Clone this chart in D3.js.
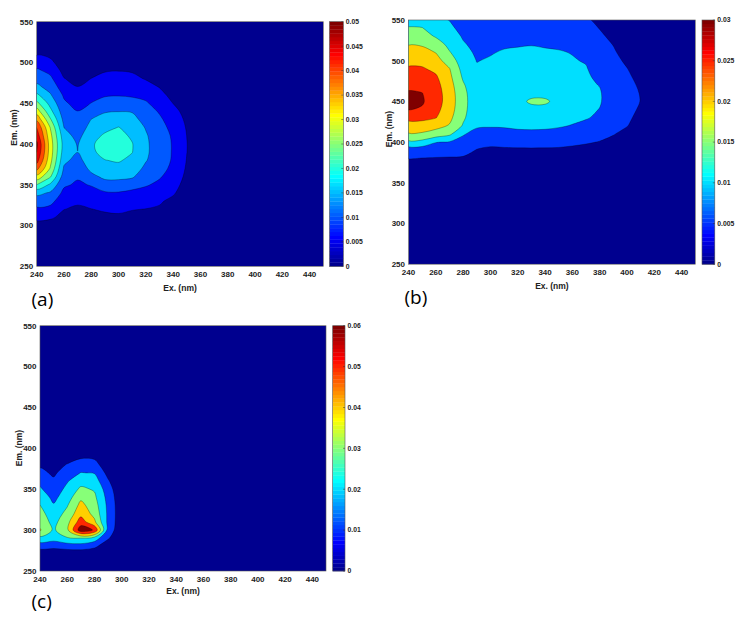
<!DOCTYPE html>
<html>
<head>
<meta charset="utf-8">
<script src="https://cdn.jsdelivr.net/npm/d3@7"></script>
<style>
  body { margin: 0; background: #fff; }
  svg text { font-family: "Liberation Sans", Arial, sans-serif; fill: #222; }
</style>
</head>
<body>
<svg id="chart" width="743" height="622"></svg>
<script>
// sample grid (nm)
const exGrid = [240, 250, 260, 270, 280, 290, 300, 310, 320, 330, 340, 350, 360, 370, 380, 390, 400, 410, 420, 430, 440, 450];
const emGrid = [250, 260, 270, 280, 290, 300, 310, 320, 330, 340, 350, 360, 370, 380, 390, 400, 410, 420, 430, 440, 450, 460, 470, 480, 490, 500, 510, 520, 530, 540, 550];
const xTicks = [240, 260, 280, 300, 320, 340, 360, 380, 400, 420, 440];
const yTicks = [250, 300, 350, 400, 450, 500, 550];

// intensities in units of 1e-3, one array per Ex column (Em 250 -> 550),
// columns not listed are zero
const intensityA = [
  /* 240 */ [0,0,0,0,1,3,6.4,9.2,12.3,16.4,25,33.3,41.7,47,50,51,48,45,39,32.5,26.3,21,16.1,13.5,10.8,7.8,4.7,2,0.5,0,0],
  /* 250 */ [0,0,0,0,0.5,2.5,5.8,8.6,11.5,14.4,19,25.5,29.5,31.5,32.5,32.5,31.5,29.8,25.6,21.4,18.3,15.5,13.2,11,8.7,6.2,3.8,1.5,0,0,0],
  /* 260 */ [0,0,0,0,0,1.5,3.5,5.1,6.9,8.8,10.7,12.5,14.3,16.2,17.5,18,17,15,13.5,12.2,10.8,9.3,7.2,5.2,3.5,2,0.8,0,0,0,0],
  /* 270 */ [0,0,0,0,0,0.8,2.5,4.3,5.7,7.6,9.3,10.5,11.9,13.3,15.05,14.7,13.5,12.4,11.3,10.1,8.3,6.7,5.1,3.3,1.8,0.6,0,0,0,0,0],
  /* 280 */ [0,0,0,0,0,1.5,3.2,4.9,6.7,8.5,10.3,13.8,16.2,18,19.3,19.5,18.3,16.5,15.1,12.4,10.1,8.4,6.7,5.1,3.2,1.5,0.3,0,0,0,0],
  /* 290 */ [0,0,0,0,0,2,3.9,5.6,7.5,9.4,13.2,16,17.5,19.9,21.2,21.5,20.7,18.8,16.9,14.6,11.9,9.5,7.9,6.3,4.7,3,1.3,0,0,0,0],
  /* 300 */ [0,0,0,0,0,2.2,4.2,5.9,7.6,9.6,13.3,16,18.8,20.4,21.5,22,21.5,20.2,17.8,14.9,12.2,9.7,8.1,6.5,4.9,3.2,1.5,0.2,0,0,0],
  /* 310 */ [0,0,0,0,0,2,3.8,5.2,6.9,8.6,12.3,15.6,17.5,19,20.1,20.2,19.3,18,16.5,14.7,12,9.3,7.8,6.1,4.6,2.9,1.2,0,0,0,0],
  /* 320 */ [0,0,0,0,0,1.5,3.2,4.9,6.7,8.5,10.4,12.1,13.9,15.3,15.8,15.8,15.5,14.7,13.3,11.9,10.5,8.8,6.7,4.7,3,1.5,0.3,0,0,0,0],
  /* 330 */ [0,0,0,0,0,0.8,2.5,4.4,5.6,7.3,9.1,10.4,11.5,12.2,12.5,12.5,12.2,11.5,10.7,9.6,8.1,6.5,4.8,3.2,1.8,0.6,0,0,0,0,0],
  /* 340 */ [0,0,0,0,0,0,0.8,2.2,3.8,5.6,7,8.2,9,9.5,9.6,9.6,9.4,8.8,7.9,6.6,4.9,3.5,2,0.8,0,0,0,0,0,0,0],
  /* 350 */ [0,0,0,0,0,0,0,0.3,1.2,2.2,3,3.8,4.4,4.8,5.05,5.1,4.95,4.6,4,3.2,2.3,1.3,0.5,0,0,0,0,0,0,0,0],
  /* 360 */ [0,0,0,0,0,0,0,0,0,0,0.2,0.6,1,1.3,1.5,1.5,1.4,1.1,0.7,0.3,0,0,0,0,0,0,0,0,0,0,0]
];

const intensityB = [
  /* 240 */ [0,0,0,0,0,0,0,0,0,0,0,0.5,2.5,5.2,7,14,19.6,23.2,26.3,30.2,31.2,30.6,28.8,27.2,25.6,23.8,21.8,19.8,17.6,15.4,13],
  /* 250 */ [0,0,0,0,0,0,0,0,0,0,0,0.4,2,4.9,7,13.5,19.3,23,26.2,29.5,30.5,30.1,28.5,27,25.5,23.6,21.6,19.5,17.4,15.2,12.6],
  /* 260 */ [0,0,0,0,0,0,0,0,0,0,0,0.3,1.5,4.7,7.3,10.2,18,21.5,25.2,26.5,27.3,27.2,26.6,25.6,23.9,21.8,19.9,17.8,14.5,12.5,11],
  /* 270 */ [0,0,0,0,0,0,0,0,0,0,0,0.2,1.2,4.6,7,9.7,16,19.6,21.2,22.2,22.6,22.5,22,21.2,20.2,17.8,15.4,13.5,12,10.8,9.9],
  /* 280 */ [0,0,0,0,0,0,0,0,0,0,0,0,1,4.5,6.5,8.5,10.4,14.5,15.8,16.4,16.6,16.4,15.6,14.3,13.2,12.2,11.3,10.4,9.6,8.8,8.2],
  /* 290 */ [0,0,0,0,0,0,0,0,0,0,0,0,0.5,3,4.8,6.5,8.5,10.6,11.3,11.7,11.8,11.6,11.2,10.8,10.4,9.9,9.4,8.9,8.4,7.9,7.5],
  /* 300 */ [0,0,0,0,0,0,0,0,0,0,0,0,0,1.8,4,6.3,8.2,10.4,11.2,11.6,11.8,11.7,11.4,11,10.6,10.3,9.8,9.2,8.7,8.2,7.7],
  /* 310 */ [0,0,0,0,0,0,0,0,0,0,0,0,0,2,4.2,6.5,8.3,10.5,11.4,11.8,12,11.9,11.6,11.2,10.9,10.6,10.3,9.6,9,8.4,7.8],
  /* 320 */ [0,0,0,0,0,0,0,0,0,0,0,0,0,2,4.3,6.7,8.8,10.9,11.6,12,12.2,12.1,11.8,11.4,11,10.7,10.4,9.8,9.2,8.5,7.9],
  /* 330 */ [0,0,0,0,0,0,0,0,0,0,0,0,0,2,4.3,6.8,8.9,11,11.8,12.3,16.5,12.3,12,11.6,11.2,10.9,10.5,9.9,9.2,8.5,7.8],
  /* 340 */ [0,0,0,0,0,0,0,0,0,0,0,0,0,1.9,4.3,6.7,8.8,10.9,11.7,12.2,16.5,12.2,11.9,11.5,11.1,10.8,10.4,9.7,9,8.3,7.7],
  /* 350 */ [0,0,0,0,0,0,0,0,0,0,0,0,0,1.8,4.2,6.5,8.6,10.4,11.3,11.8,12,11.8,11.5,11.2,10.9,10.6,10.2,9.6,8.8,8,7.3],
  /* 360 */ [0,0,0,0,0,0,0,0,0,0,0,0,0,1.5,3.9,6,7.9,9.8,10.9,11.3,11.5,11.4,11.1,10.8,10.5,10.2,9.9,9.2,8.3,7.4,6.6],
  /* 370 */ [0,0,0,0,0,0,0,0,0,0,0,0,0,1,3.4,5.5,7.3,9,10.3,10.8,11,10.9,10.6,10.4,10.2,9.8,8.9,8,7,6.1,5.3],
  /* 380 */ [0,0,0,0,0,0,0,0,0,0,0,0,0,0.3,2.8,4.8,6.5,8,9.3,9.9,10.3,10.3,9.9,9.4,8.6,7.7,6.9,6.1,5.5,4.9,4.5],
  /* 390 */ [0,0,0,0,0,0,0,0,0,0,0,0,0,0,1.5,3.5,5.3,6.5,7.4,7.9,8.1,8,7.7,7.2,6.6,6,5.4,4.9,4.3,3.7,3.2],
  /* 400 */ [0,0,0,0,0,0,0,0,0,0,0,0,0,0,0,1.5,3.4,5.2,5.9,6.4,6.6,6.5,6.2,5.7,5.1,4.4,3.8,3.2,2.6,2.1,1.6],
  /* 410 */ [0,0,0,0,0,0,0,0,0,0,0,0,0,0,0,0,1,2.5,3.6,4.4,4.9,4.8,4.4,3.8,3.2,2.6,2,1.5,1,0.6,0.3],
  /* 420 */ [0,0,0,0,0,0,0,0,0,0,0,0,0,0,0,0,0,1,1.8,2.5,2.9,2.8,2.5,2,1.5,1,0.6,0.3,0,0,0]
];

const intensityC = [
  /* 240 */ [0,0,3,13.5,27,41,36,33.5,30.3,26,21.2,17.3,12.5,8.5,3,0.5,0,0,0,0,0,0,0,0,0,0,0,0,0,0,0],
  /* 250 */ [0,0,2.5,12.5,24,28.5,27,24.5,21,17.5,14.5,11.5,8.5,5.5,2,0,0,0,0,0,0,0,0,0,0,0,0,0,0,0,0],
  /* 260 */ [0,0,3,14,29,38,37,33,29.4,25.5,22.5,19.2,14.5,10.6,5,1,0,0,0,0,0,0,0,0,0,0,0,0,0,0,0],
  /* 270 */ [0,0,2.5,15,29.5,66,55,47,43,38,32,26,20.3,14.3,8.5,2,0,0,0,0,0,0,0,0,0,0,0,0,0,0,0],
  /* 280 */ [0,0,1,12,25,59,42,37,34.5,32,29,24.5,19.5,13.5,8,2,0,0,0,0,0,0,0,0,0,0,0,0,0,0,0],
  /* 290 */ [0,0,0,3,11,16,17.5,18,17.6,16.5,14.5,11,7,3.5,1,0,0,0,0,0,0,0,0,0,0,0,0,0,0,0,0],
  /* 300 */ [0,0,0,0,1,2.5,3,3,3,2.5,1.5,0.5,0,0,0,0,0,0,0,0,0,0,0,0,0,0,0,0,0,0,0]
];

// contour levels and colour bar ticks (units of 1e-3)
const levelsA = [5, 10, 15, 20, 25, 30, 35, 40, 45, 50];
const levelsB = [5, 10, 15, 20, 25, 30];
const levelsC = [10, 20, 30, 40, 50, 60];
const cbarTicksA = [0, 5, 10, 15, 20, 25, 30, 35, 40, 45, 50];
const cbarTicksB = [0, 5, 10, 15, 20, 25, 30];
const cbarTicksC = [0, 10, 20, 30, 40, 50, 60];

// MATLAB jet
const jetStops = [0, 7 / 63, 23 / 63, 39 / 63, 55 / 63, 1];
const jetColors = ["#00008f", "#0000ff", "#00ffff", "#ffff00", "#ff0000", "#800000"];

const panels = [
  { id: "a", data: intensityA, levels: levelsA, cticks: cbarTicksA, cmax: 50,
    left: 36.7, right: 323.3, top: 21.7, bottom: 266.3, cbL: 329.5, cbR: 343.3,
    xLabY: 290.5, yLabX: 16.5, yLabY: 127.5, tag: "(a)", tagX: 31.5, tagY: 306 },
  { id: "b", data: intensityB, levels: levelsB, cticks: cbarTicksB, cmax: 30,
    left: 408.5, right: 695.3, top: 20, bottom: 264.2, cbL: 702, cbR: 714.8,
    xLabY: 288.7, yLabX: 391.5, yLabY: 129, tag: "(b)", tagX: 404.5, tagY: 304 },
  { id: "c", data: intensityC, levels: levelsC, cticks: cbarTicksC, cmax: 60,
    left: 40, right: 326, top: 325.7, bottom: 571, cbL: 332.7, cbR: 345,
    xLabY: 593.5, yLabX: 21.5, yLabY: 448, tag: "(c)", tagX: 31.5, tagY: 607.5 }
];

const svg = d3.select("#chart");
const fmt = d => d === 0 ? "0" : String(d / 1000);
const ringLine = d3.line().curve(d3.curveCatmullRomClosed.alpha(0.5));

function drawPanel(p) {
  const g = svg.append("g");
  const x = d3.scaleLinear().domain([240, 450]).range([p.left, p.right]);
  const y = d3.scaleLinear().domain([250, 550]).range([p.bottom, p.top]);
  const color = d3.scaleLinear()
    .domain(jetStops.map(s => s * p.cmax))
    .range(jetColors)
    .clamp(true);

  // row-major grid for d3.contours (row 0 = Em 250)
  const nx = exGrid.length, ny = emGrid.length;
  const values = new Array(nx * ny).fill(0);
  p.data.forEach((col, i) => col.forEach((v, j) => { values[j * nx + i] = v; }));

  // grid sample i sits at contour coordinate i + 0.5
  const gx = d3.scaleLinear().domain([0.5, nx - 0.5]).range([x(exGrid[0]), x(exGrid[nx - 1])]);
  const gy = d3.scaleLinear().domain([0.5, ny - 0.5]).range([y(emGrid[0]), y(emGrid[ny - 1])]);
  const bandPath = d => d.coordinates
    .map(poly => poly.map(ring => ringLine(ring.slice(0, -1).map(([cx, cy]) => [gx(cx), gy(cy)]))).join(""))
    .join("");
  const bands = d3.contours().size([nx, ny]).thresholds(p.levels)(values);

  g.append("clipPath").attr("id", "clip-" + p.id)
    .append("rect")
    .attr("x", p.left).attr("y", p.top)
    .attr("width", p.right - p.left).attr("height", p.bottom - p.top);

  const plot = g.append("g").attr("clip-path", `url(#clip-${p.id})`);
  plot.append("rect")
    .attr("x", p.left).attr("y", p.top)
    .attr("width", p.right - p.left).attr("height", p.bottom - p.top)
    .attr("fill", color(0));

  plot.selectAll("path.band")
    .data(bands)
    .join("path")
    .attr("class", "band")
    .attr("d", bandPath)
    .attr("fill", d => color(d.value));

  plot.selectAll("path.line")
    .data(bands)
    .join("path")
    .attr("class", "line")
    .attr("d", bandPath)
    .attr("fill", "none")
    .attr("stroke", "#000")
    .attr("stroke-opacity", 0.6)
    .attr("stroke-width", 0.5);

  g.append("rect")
    .attr("x", p.left).attr("y", p.top)
    .attr("width", p.right - p.left).attr("height", p.bottom - p.top)
    .attr("fill", "none").attr("stroke", "#555").attr("stroke-width", 0.6);

  // tick labels
  g.selectAll("text.xt")
    .data(xTicks)
    .join("text")
    .attr("class", "xt")
    .attr("x", d => x(d))
    .attr("y", p.bottom + 11)
    .attr("text-anchor", "middle")
    .attr("font-size", 8)
    .attr("font-weight", "bold")
    .text(d => d);

  g.selectAll("text.yt")
    .data(yTicks)
    .join("text")
    .attr("class", "yt")
    .attr("x", p.left - 3.5)
    .attr("y", d => y(d))
    .attr("dy", "0.35em")
    .attr("text-anchor", "end")
    .attr("font-size", 8)
    .attr("font-weight", "bold")
    .text(d => d);

  g.append("text")
    .attr("x", (p.left + p.right) / 2)
    .attr("y", p.xLabY)
    .attr("text-anchor", "middle")
    .attr("font-size", 8.5)
    .attr("font-weight", "bold")
    .text("Ex. (nm)");

  g.append("text")
    .attr("transform", `translate(${p.yLabX},${p.yLabY}) rotate(-90)`)
    .attr("text-anchor", "middle")
    .attr("font-size", 8.5)
    .attr("font-weight", "bold")
    .text("Em. (nm)");

  // colour bar
  const cy = d3.scaleLinear().domain([0, p.cmax]).range([p.bottom, p.top]);
  const steps = d3.range(64);
  g.selectAll("rect.cb")
    .data(steps)
    .join("rect")
    .attr("class", "cb")
    .attr("x", p.cbL)
    .attr("width", p.cbR - p.cbL)
    .attr("y", i => cy((i + 1) / 64 * p.cmax))
    .attr("height", i => cy(i / 64 * p.cmax) - cy((i + 1) / 64 * p.cmax) + 0.3)
    .attr("fill", i => color(i / 63 * p.cmax));

  g.append("rect")
    .attr("x", p.cbL).attr("y", p.top)
    .attr("width", p.cbR - p.cbL).attr("height", p.bottom - p.top)
    .attr("fill", "none").attr("stroke", "#555").attr("stroke-width", 0.6);

  g.selectAll("line.ct")
    .data(p.cticks)
    .join("line")
    .attr("class", "ct")
    .attr("x1", p.cbR - 2).attr("x2", p.cbR)
    .attr("y1", d => cy(d)).attr("y2", d => cy(d))
    .attr("stroke", "#333").attr("stroke-width", 0.5);

  g.selectAll("text.ctl")
    .data(p.cticks)
    .join("text")
    .attr("class", "ctl")
    .attr("x", p.cbR + 2.5)
    .attr("y", d => cy(d))
    .attr("dy", "0.35em")
    .attr("font-size", 6.8)
    .attr("font-weight", "bold")
    .text(fmt);

  g.append("text")
    .attr("x", p.tagX)
    .attr("y", p.tagY)
    .style("font-family", "'Open Sans', 'Noto Sans', sans-serif")
    .style("fill", "#000")
    .attr("font-size", 19)
    .text(p.tag);
}

panels.forEach(drawPanel);
</script>
</body>
</html>
